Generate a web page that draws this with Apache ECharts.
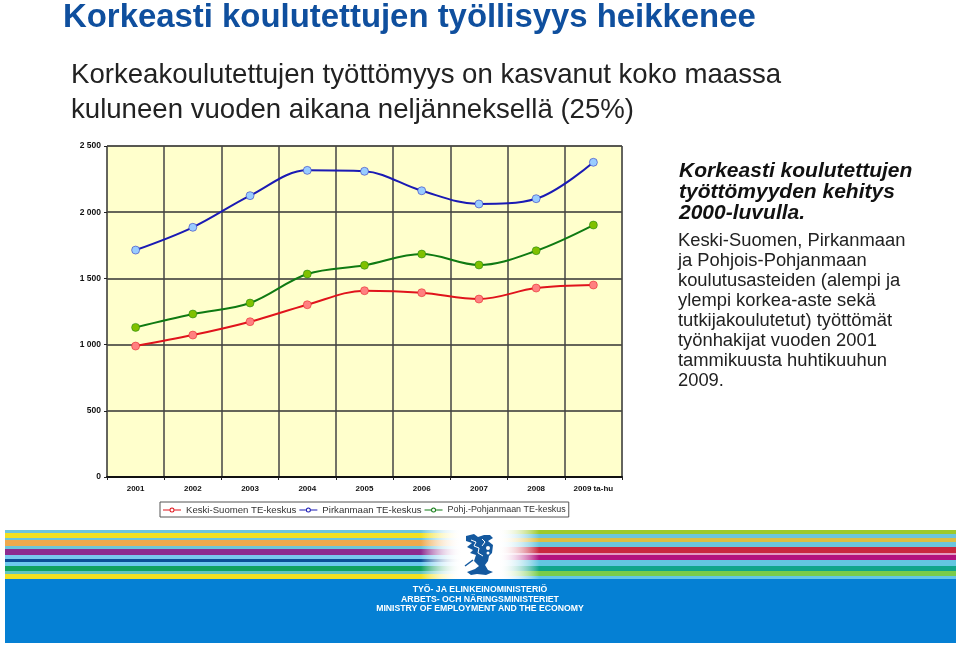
<!DOCTYPE html>
<html>
<head>
<meta charset="utf-8">
<style>
  html, body { margin: 0; padding: 0; background: #fff; }
  #chart { width: 960px; height: 645px; }
</style>
<script src="https://cdn.jsdelivr.net/npm/echarts@6/dist/echarts.min.js"></script>
</head>
<body>
<div id="chart"></div>
<script>
const years = ['2001', '2002', '2003', '2004', '2005', '2006', '2007', '2008', '2009 ta-hu'];
const yTicks = { 0: '0', 500: '500', 1000: '1 000', 1500: '1 500', 2000: '2 000', 2500: '2 500' };

const keskiSuomi = [989, 1072, 1173, 1301, 1407, 1392, 1344, 1427, 1450];
const pirkanmaa = [1714, 1886, 2125, 2316, 2309, 2162, 2062, 2102, 2377];
const pohjPohjanmaa = [1130, 1231, 1314, 1533, 1599, 1684, 1601, 1709, 1903];

const titleText = 'Korkeasti koulutettujen työllisyys heikkenee';
const subLines = ['Korkeakoulutettujen työttömyys on kasvanut koko maassa', 'kuluneen vuoden aikana neljänneksellä (25%)'];
const noteHead = ['Korkeasti koulutettujen', 'työttömyyden kehitys', '2000-luvulla.'];
const noteBody = ['Keski-Suomen, Pirkanmaan', 'ja Pohjois-Pohjanmaan', 'koulutusasteiden (alempi ja', 'ylempi korkea-aste sekä', 'tutkijakoulutetut) työttömät', 'työnhakijat vuoden 2001', 'tammikuusta huhtikuuhun', '2009.'];
const ministry = ['TYÖ- JA ELINKEINOMINISTERIÖ', 'ARBETS- OCH NÄRINGSMINISTERIET', 'MINISTRY OF EMPLOYMENT AND THE ECONOMY'];

// footer stripes [top, height, colour]
const leftStripes = [[530, 3, '#6cc5dc'], [533, 5, '#f2e021'], [538, 2, '#6cc5dc'], [540, 6, '#eea94e'], [546, 3, '#6cc5dc'], [549, 6, '#8d2b90'], [555, 4, '#79c9ee'], [559, 3, '#0b4f97'], [562, 4, '#6cc9ee'], [566, 5, '#10a160'], [571, 3, '#62c6c0'], [574, 5, '#f2e021']];
const rightStripes = [[530, 4, '#9cca2c'], [534, 4, '#6cc5dc'], [538, 4, '#dcbd45'], [542, 5, '#6cc5dc'], [547, 6, '#c9273f'], [553, 2, '#e59ac0'], [555, 5, '#b3127e'], [560, 6, '#62c6e0'], [566, 5, '#10a58a'], [571, 5, '#79cc4a'], [576, 3, '#62c6e8']];

function fade(color, fromLeft, stop) {
  // colour runs out to white around the coat of arms
  return new echarts.graphic.LinearGradient(0, 0, 1, 0, fromLeft
    ? [{ offset: 0, color: color }, { offset: stop, color: color }, { offset: 1, color: 'rgba(255,255,255,0)' }]
    : [{ offset: 0, color: 'rgba(255,255,255,0)' }, { offset: stop, color: color }, { offset: 1, color: color }]);
}

function textLines(lines, x, y, step, style) {
  return lines.map((t, i) => ({
    type: 'text', x: x, y: y + i * step, silent: true,
    style: Object.assign({ text: t, fontFamily: 'Liberation Sans', verticalAlign: 'middle' }, style)
  }));
}

const footer = [];
leftStripes.forEach(s => footer.push({ type: 'rect', silent: true, shape: { x: 5, y: s[0], width: 457, height: s[1] }, style: { fill: fade(s[2], true, 0.91) } }));
rightStripes.forEach(s => footer.push({ type: 'rect', silent: true, shape: { x: 498, y: s[0], width: 458, height: s[1] }, style: { fill: fade(s[2], false, 0.09) } }));
footer.push({ type: 'rect', silent: true, shape: { x: 5, y: 579, width: 951, height: 64 }, style: { fill: '#0580d4' } });

// coat of arms, rough lion shape with some white cuts, rings and sword
const lionBlue = '#14599f';
footer.push({ type: 'polygon', silent: true, shape: { points: [[466, 536], [474, 534], [478, 537], [484, 535], [490, 535], [493, 538], [488, 541], [493, 545], [492, 553], [489, 556], [488, 561], [485, 565], [488, 570], [493, 572], [486, 575], [477, 574], [471, 575], [467, 572], [475, 569], [479, 566], [474, 561], [476, 555], [470, 553], [473, 550], [467, 547], [472, 543], [466, 541]] }, style: { fill: lionBlue } });
footer.push({ type: 'polyline', silent: true, shape: { points: [[471, 540], [476, 542], [474, 546], [479, 548], [478, 553], [483, 556]] }, style: { stroke: '#fff', lineWidth: 1, fill: 'none' } });
footer.push({ type: 'polyline', silent: true, shape: { points: [[482, 539], [485, 542], [482, 546]] }, style: { stroke: '#fff', lineWidth: 1, fill: 'none' } });
footer.push({ type: 'circle', silent: true, shape: { cx: 488, cy: 548, r: 2 }, style: { fill: '#fff' } });
footer.push({ type: 'circle', silent: true, shape: { cx: 488, cy: 553, r: 1.5 }, style: { fill: '#fff' } });
footer.push({ type: 'line', silent: true, shape: { x1: 465, y1: 566, x2: 473, y2: 560 }, style: { stroke: lionBlue, lineWidth: 1.5 } });

const chart = echarts.init(document.getElementById('chart'), null, { renderer: 'canvas' });

const lineColors = { red: '#e0141c', blue: '#1a1ab4', green: '#0f7a12' };

function series(name, values, line, dot) {
  return {
    name: name, type: 'line', data: values, smooth: 0.35,
    symbol: 'circle', symbolSize: 8,
    lineStyle: { color: line, width: 2 },
    itemStyle: { color: dot, borderColor: line, borderWidth: 0.5 },
    z: 5
  };
}

function legendItem(name, line, size) {
  return { name: name, itemStyle: { color: line, borderWidth: 0 }, textStyle: { fontSize: size } };
}

chart.setOption({
  animation: false,
  backgroundColor: '#ffffff',
  grid: { left: 107, right: 338, top: 146, height: 331, show: true, backgroundColor: '#ffffcc', borderColor: '#8a8a70', borderWidth: 1 },
  legend: {
    left: 160, top: 502, itemGap: 3, itemWidth: 18, itemHeight: 7,
    padding: [3, 3, 2, 3], backgroundColor: '#fff', borderColor: '#555', borderWidth: 1,
    icon: 'path://M0 3H6.5V4H0ZM11.5 3H18V4H11.5ZM9 1A2.5 2.5 0 1 1 9 6A2.5 2.5 0 1 1 9 1ZM9 2A1.5 1.5 0 1 0 9 5A1.5 1.5 0 1 0 9 2Z',
    textStyle: { fontFamily: 'Liberation Sans', fontSize: 9.6, color: '#333' },
    data: [
      legendItem('Keski-Suomen TE-keskus', lineColors.red, 9.6),
      legendItem('Pirkanmaan TE-keskus', lineColors.blue, 9.6),
      legendItem('Pohj.-Pohjanmaan TE-keskus', lineColors.green, 8.95)
    ]
  },
  xAxis: {
    type: 'category', data: years,
    axisLine: { lineStyle: { color: '#111', width: 2 } },
    axisTick: { show: true, length: 3, lineStyle: { color: '#222' } },
    splitLine: { show: true, lineStyle: { color: '#444', width: 1.5 } },
    axisLabel: { fontFamily: 'Liberation Sans', fontWeight: 'bold', fontSize: 8, color: '#111', margin: 8, interval: 0 }
  },
  yAxis: {
    type: 'value', min: 0, max: 2500, interval: 500,
    axisLine: { show: false },
    axisTick: { show: true, length: 3, lineStyle: { color: '#222' } },
    splitLine: { lineStyle: { color: '#333', width: 1.5 } },
    axisLabel: { fontFamily: 'Liberation Sans', fontWeight: 'bold', fontSize: 8.5, color: '#111', margin: 6, formatter: v => yTicks[v] }
  },
  series: [
    series('Keski-Suomen TE-keskus', keskiSuomi, lineColors.red, '#ff8080'),
    series('Pirkanmaan TE-keskus', pirkanmaa, lineColors.blue, '#99ccff'),
    series('Pohj.-Pohjanmaan TE-keskus', pohjPohjanmaa, lineColors.green, '#80c000')
  ],
  graphic: [].concat(
    footer,
    textLines([titleText], 63, 18, 0, { fontSize: 32.9, fontWeight: 'bold', fill: '#0f4f9e' }),
    textLines(subLines, 71, 75, 35, { fontSize: 27.6, fill: '#222' }),
    textLines(noteHead, 679, 171, 21, { fontSize: 21, fontWeight: 'bold', fontStyle: 'italic', fill: '#111' }),
    textLines(noteBody, 678, 241, 20, { fontSize: 18.35, fill: '#222' }),
    textLines(ministry, 480, 590, 9.5, { fontSize: 8.7, fontWeight: 'bold', fill: '#fff', textAlign: 'center' })
  )
});
</script>
</body>
</html>
